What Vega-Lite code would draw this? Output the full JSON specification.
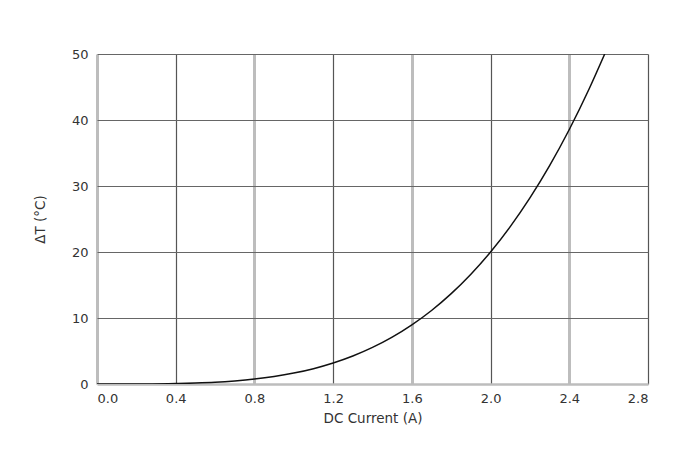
{
  "$schema": "https://vega.github.io/schema/vega-lite/v6.json",
  "autosize": {"type": "none"},
  "width": 551,
  "height": 330,
  "padding": {"left": 97, "top": 54, "right": 48, "bottom": 86},
  "background": "white",
  "config": {
    "view": {"stroke": null},
    "font": "DejaVu Sans",
    "axis": {
      "labelFont": "DejaVu Sans",
      "titleFont": "DejaVu Sans",
      "labelFontSize": 13,
      "titleFontSize": 13.5,
      "labelColor": "#333",
      "titleColor": "#333",
      "titleFontWeight": "normal",
      "domain": false,
      "ticks": false
    }
  },
  "data": {
    "values": [
      {"I": 0.0, "T": 0},
      {"I": 0.28, "T": 0.01},
      {"I": 0.4, "T": 0.06},
      {"I": 0.5, "T": 0.14},
      {"I": 0.6, "T": 0.26},
      {"I": 0.7, "T": 0.46},
      {"I": 0.8, "T": 0.74},
      {"I": 0.9, "T": 1.13},
      {"I": 1.0, "T": 1.65},
      {"I": 1.1, "T": 2.32},
      {"I": 1.2, "T": 3.18},
      {"I": 1.3, "T": 4.24},
      {"I": 1.4, "T": 5.54},
      {"I": 1.5, "T": 7.1},
      {"I": 1.6, "T": 8.96},
      {"I": 1.7, "T": 11.14},
      {"I": 1.8, "T": 13.69},
      {"I": 1.9, "T": 16.63},
      {"I": 2.0, "T": 20.0},
      {"I": 2.1, "T": 23.84},
      {"I": 2.2, "T": 28.19},
      {"I": 2.3, "T": 33.08},
      {"I": 2.4, "T": 38.56},
      {"I": 2.5, "T": 44.66},
      {"I": 2.58, "T": 50.0}
    ]
  },
  "mark": {"type": "line", "color": "#111", "strokeWidth": 1.5, "interpolate": "monotone", "clip": true},
  "encoding": {
    "x": {
      "field": "I",
      "type": "quantitative",
      "scale": {"domain": [0, 2.8], "nice": false},
      "axis": {
        "title": "DC Current (A)",
        "values": [0, 0.4, 0.8, 1.2, 1.6, 2.0, 2.4, 2.8],
        "format": ".1f",
        "labelPadding": 8,
        "titlePadding": 6,
        "grid": true,
        "gridColor": {"condition": {"test": "round(datum.value * 10) % 8 == 0", "value": "#bdbdbd"}, "value": "#555"},
        "gridWidth": {"condition": {"test": "round(datum.value * 10) % 8 == 0", "value": 3}, "value": 1.2}
      }
    },
    "y": {
      "field": "T",
      "type": "quantitative",
      "scale": {"domain": [0, 50], "nice": false},
      "axis": {
        "title": "ΔT (°C)",
        "values": [0, 10, 20, 30, 40, 50],
        "labelPadding": 9,
        "titlePadding": 24,
        "grid": true,
        "gridColor": {"condition": {"test": "datum.value == 0", "value": "#bdbdbd"}, "value": "#666"},
        "gridWidth": {"condition": {"test": "datum.value == 0", "value": 2.5}, "value": 1.2}
      }
    }
  }
}
